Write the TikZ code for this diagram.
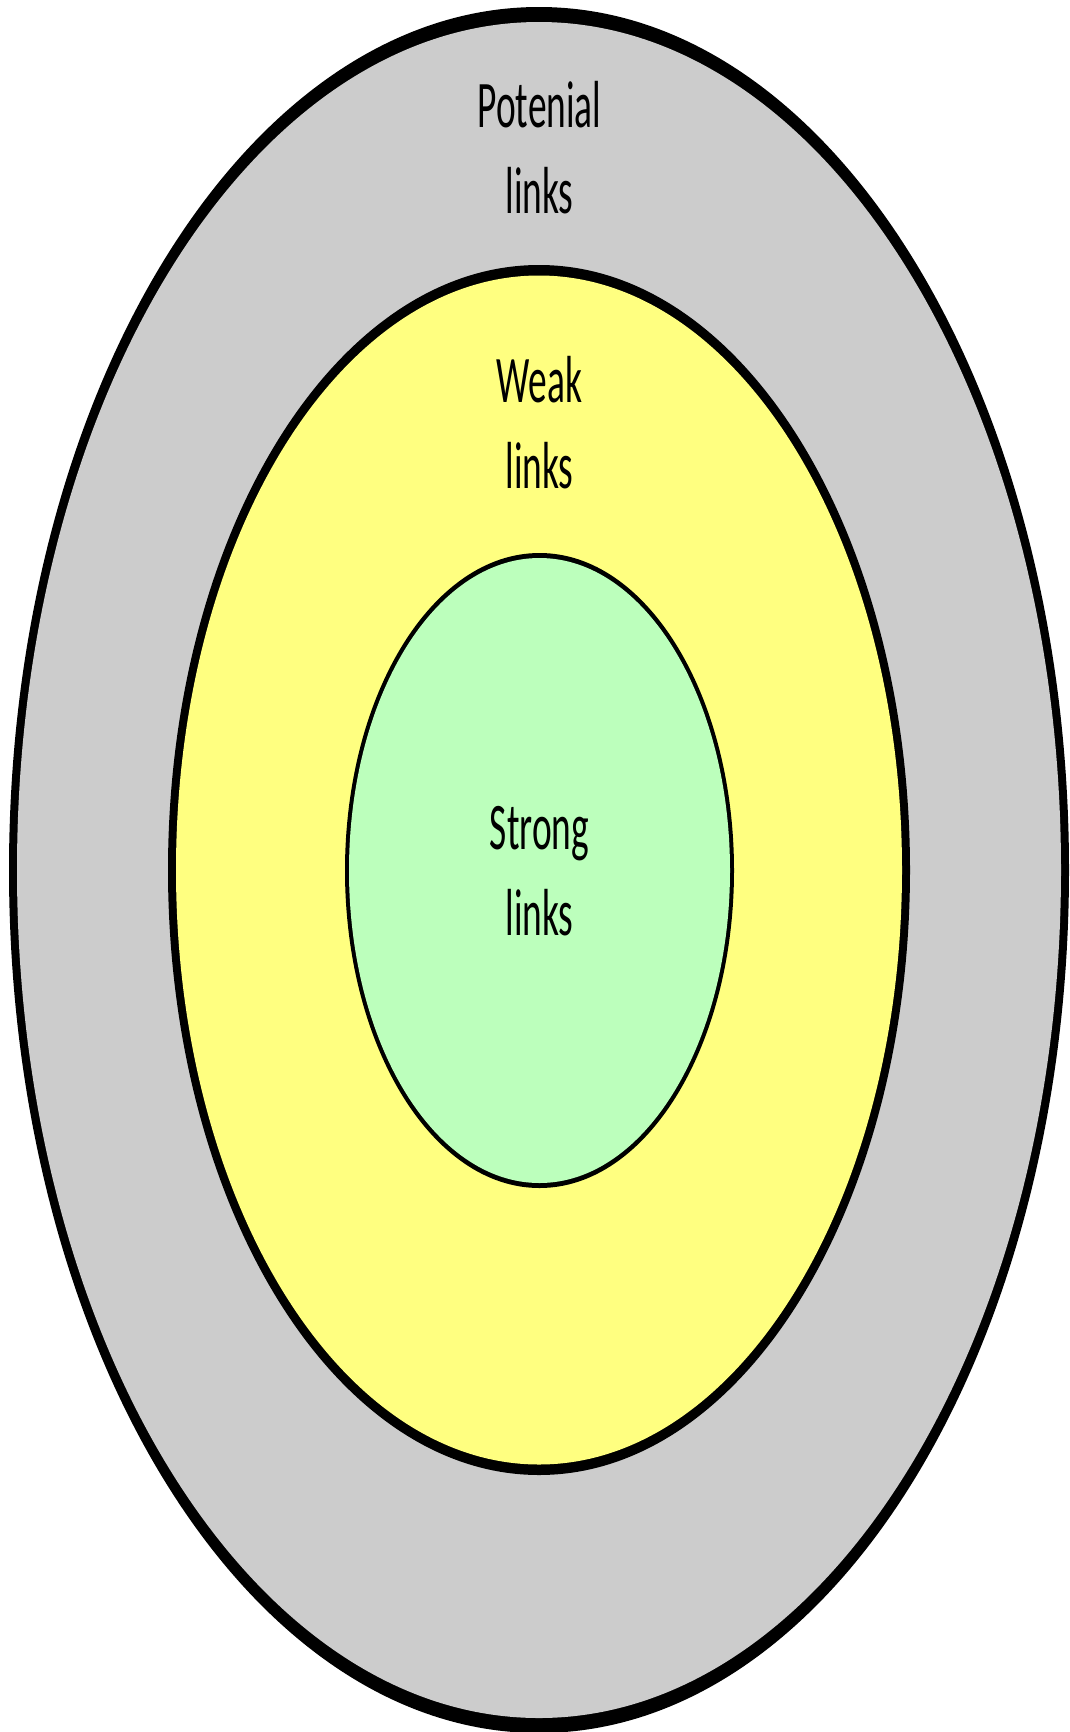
\documentclass[tikz,border=0pt]{standalone}
\usepackage{fontspec}
\setmainfont{Carlito}
\definecolor{ringgray}{HTML}{CCCCCC}
\definecolor{ringyellow}{HTML}{FFFF80}
\definecolor{ringgreen}{HTML}{BCFFBC}
\begin{document}
\begin{tikzpicture}[x=1pt,y=-1pt,
  lbl/.style={anchor=south,inner sep=0pt,align=center,yscale=1.78,
    font=\fontsize{37.4}{48.3}\selectfont}]
\useasboundingbox (0,0) rectangle (1069,1732);
% outer ring
\fill[black] (539,870) ellipse [x radius=530,y radius=863];
\fill[ringgray] (539,870) ellipse [x radius=522,y radius=848];
% middle ring
\fill[black] (539,870) ellipse [x radius=371,y radius=605];
\fill[ringyellow] (539,870) ellipse [x radius=363,y radius=594.5];
% inner ring
\fill[black] (539.5,870.5) ellipse [x radius=194.5,y radius=317.5];
\fill[ringgreen] (539.5,870.5) ellipse [x radius=190.5,y radius=312.5];
% labels
\node[lbl] (pot) at (539.5,214) {Potenial\\links};
\node[lbl] (weak) at (539.5,489) {Weak\\links};
\node[lbl] (strong) at (539.5,936) {Strong\\links};
\end{tikzpicture}
\end{document}
